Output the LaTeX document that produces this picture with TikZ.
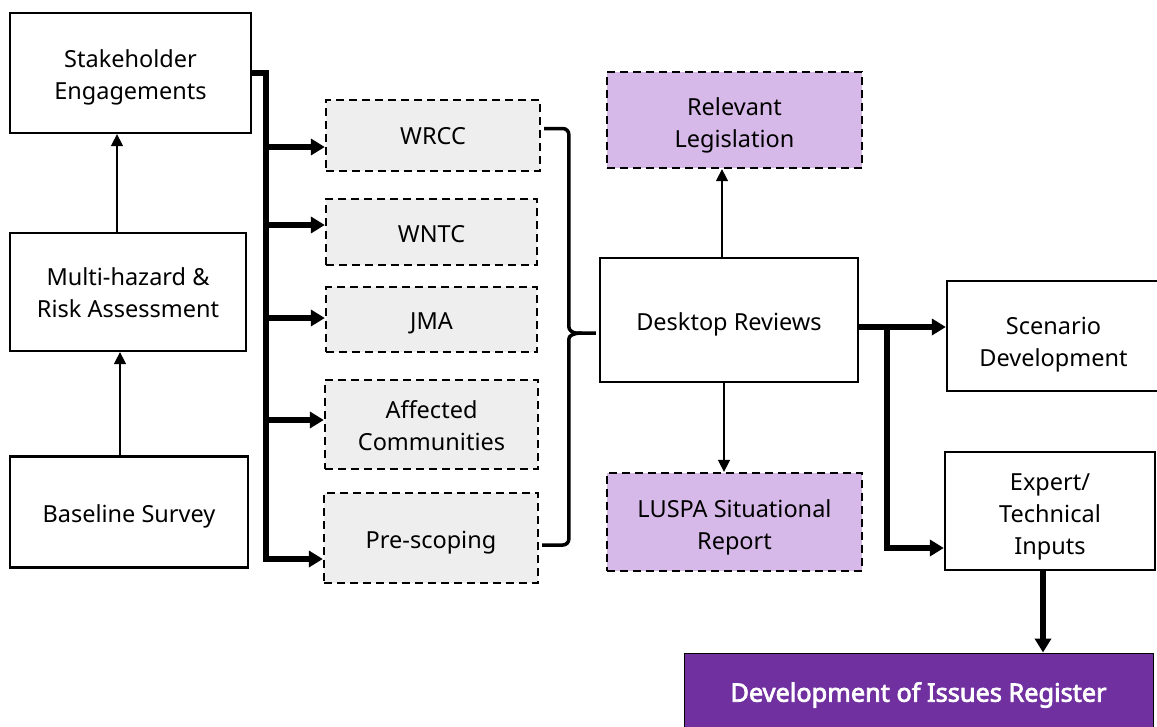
\documentclass[tikz,border=0pt]{standalone}
\usepackage{fontspec}
\setmainfont{Noto Sans}[AutoFakeBold=3]
\usetikzlibrary{arrows.meta}

\definecolor{srcgray}{HTML}{EEEEEE}
\definecolor{lilac}{HTML}{D7B9E9}
\definecolor{regpurple}{HTML}{7030A0}

% centred lines, padded on top so the text sits #1 lower in its box
\newsavebox\labelbox
\newcommand{\lbl}[2][4pt]{%
  \sbox\labelbox{\begin{tabular}{@{}c@{}}#2\end{tabular}}%
  \raisebox{0pt}[\dimexpr\ht\labelbox+#1+#1\relax][\dp\labelbox]{\usebox\labelbox}}

\tikzset{
  box/.style={draw, line width=2.3pt, fill=white, inner sep=0pt,
    font=\fontsize{23.5}{32}\selectfont},
  srcbox/.style={box, fill=srcgray, dash pattern=on 8pt off 5pt},
  docbox/.style={box, fill=lilac, dash pattern=on 8pt off 5pt},
  regbox/.style={draw, line width=1pt, fill=regpurple, text=white, inner sep=0pt,
    font=\fontsize{25.3}{32}\selectfont\bfseries},
  thinarrow/.style={line width=1.6pt, -{Triangle[length=12pt,width=12pt]}},
  thickarrow/.style={line width=5.5pt, -{Triangle[length=14pt,width=16pt]}},
  bracket/.style={line width=3.5pt, rounded corners=6pt}
}

\begin{document}
\begin{tikzpicture}[x=1pt, y=-1pt]
  \useasboundingbox (0,0) rectangle (1157,726);

  % left column
  \node[box, minimum width=241pt, minimum height=120pt] (stake) at (130.5,73) {\lbl{Stakeholder\\Engagements}};
  \node[box, minimum width=236pt, minimum height=118pt] (multi) at (128,292) {\lbl[3pt]{Multi-hazard \&\\Risk Assessment}};
  \node[box, minimum width=238pt, minimum height=111pt] (base) at (129,512) {\lbl{Baseline Survey}};

  % sources
  \node[srcbox, minimum width=214pt, minimum height=71pt] (wrcc) at (433,135.5) {\lbl[3pt]{WRCC}};
  \node[srcbox, minimum width=211pt, minimum height=66pt] (wntc) at (431.5,232) {\lbl{WNTC}};
  \node[srcbox, minimum width=211pt, minimum height=64.5pt] (jma) at (431.5,319.5) {\lbl{JMA}};
  \node[srcbox, minimum width=213pt, minimum height=89pt] (affected) at (431.5,424.5) {\lbl{Affected\\Communities}};
  \node[srcbox, minimum width=214pt, minimum height=90pt] (prescope) at (431,538) {\lbl{Pre-scoping}};

  % reviews
  \node[box, minimum width=258pt, minimum height=124pt] (desk) at (729,320) {\lbl{Desktop Reviews}};
  \node[docbox, minimum width=255pt, minimum height=96pt] (legis) at (734.5,120) {\lbl[5pt]{Relevant\\Legislation}};
  \node[docbox, minimum width=255pt, minimum height=98pt] (luspa) at (734.5,522) {\lbl[5pt]{LUSPA Situational\\Report}};

  % outputs
  \node[box, minimum width=213pt, minimum height=110pt] (scen) at (1053.5,336) {\lbl[8.5pt]{Scenario\\Development}};
  \node[box, minimum width=210pt, minimum height=118pt] (expert) at (1050,511) {\lbl[5pt]{Expert/\\Technical\\Inputs}};
  \node[regbox, minimum width=469pt, minimum height=90pt, text depth=0pt] (register) at (918.5,698) {\raisebox{12pt}{Development of Issues Register}};

  % survey chain
  \draw[thinarrow] ([xshift=-9pt]base.north) -- ([xshift=-8pt]multi.south);
  \draw[thinarrow] ([xshift=-11pt]multi.north) -- ([xshift=-13.5pt]stake.south);

  % engagement bus
  \coordinate (bus) at (266,73);
  \draw[thickarrow, line join=miter] (stake.east) -| ([yshift=-21pt]prescope.west -| bus) -- ([yshift=-21pt]prescope.west);
  \foreach \n/\dy in {wrcc/-11.5, wntc/7, jma/1.5, affected/4.5}
    \draw[thickarrow] ([yshift=\dy pt]\n.west -| bus) -- ([yshift=\dy pt]\n.west);

  % bracket into desktop reviews
  \coordinate (tip) at ([xshift=-3pt,yshift=-13pt]desk.west);
  \draw[bracket] ([xshift=3pt,yshift=7pt]wrcc.east) -| ([xshift=-27pt,yshift=12pt]tip)
    .. controls +(0,9) and +(-9,0) .. ([xshift=-14pt]tip) -- (tip);
  \draw[bracket] ([xshift=3pt,yshift=-7pt]prescope.east) -| ([xshift=-27pt,yshift=-12pt]tip)
    .. controls +(0,-9) and +(-9,0) .. ([xshift=-14pt]tip);

  \draw[thinarrow] ([xshift=-7pt]desk.north) -- ([xshift=-12.5pt]legis.south);
  \draw[thinarrow] ([xshift=-5pt]desk.south) -- ([xshift=-10.5pt]luspa.north);

  % onward
  \coordinate (split) at (887,327);
  \draw[thickarrow] ([yshift=-7pt]desk.east) -- (split) -- (split -| scen.west);
  \draw[thickarrow, line join=miter] (split) |- ([yshift=-37pt]expert.west);
  \draw[thickarrow] ([xshift=-7pt]expert.south) -- (register.north -| 1043,0);
\end{tikzpicture}
\end{document}
